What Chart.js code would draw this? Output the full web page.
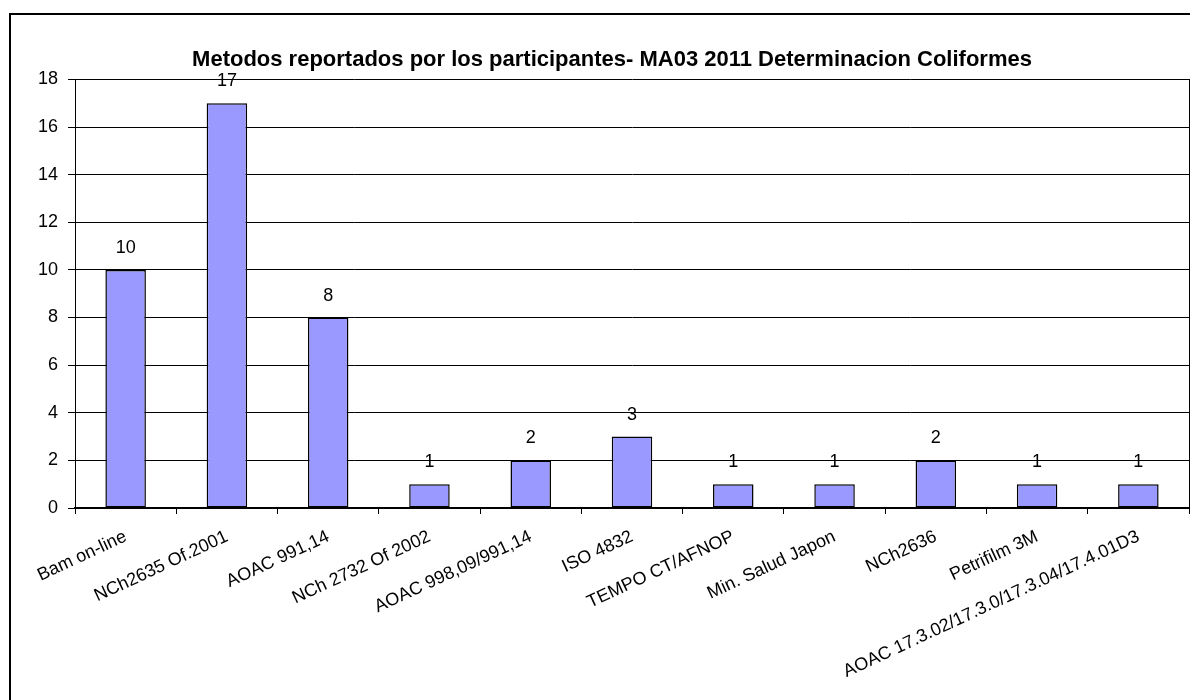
<!DOCTYPE html>
<html>
<head>
<meta charset="utf-8">
<title>Metodos reportados</title>
<script src="https://cdn.jsdelivr.net/npm/chart.js@4.4.1/dist/chart.umd.min.js"></script>
<style>
html,body{margin:0;padding:0;background:#fff;overflow:hidden;}
#frame{position:absolute;left:9px;top:13px;width:1202px;height:700px;border:2px solid #000;background:#fff;}
#chart{display:block;}
</style>
</head>
<body>
<div id="frame"><canvas id="chart" width="1202" height="700"></canvas></div>
<script>
// ====== Data ======
const TITLE = 'Metodos reportados por los participantes- MA03 2011 Determinacion Coliformes';
const methods = [
  'Bam on-line', 'NCh2635 Of.2001', 'AOAC 991,14', 'NCh 2732 Of 2002',
  'AOAC 998,09/991,14', 'ISO 4832', 'TEMPO CT/AFNOP', 'Min. Salud Japon',
  'NCh2636', 'Petrifilm 3M', 'AOAC 17.3.02/17.3.0/17.3.04/17.4.01D3'
];
const counts = [10, 17, 8, 1, 2, 3, 1, 1, 2, 1, 1];
const yTicks = [0, 2, 4, 6, 8, 10, 12, 14, 16, 18];

const FONT = 'Arial, "Liberation Sans", sans-serif';

// value labels above each bar
const barLabels = {
  id: 'barLabels',
  afterDatasetsDraw(chart){
    const ctx = chart.ctx;
    const meta = chart.getDatasetMeta(0);
    ctx.save();
    ctx.font = '18px ' + FONT;
    ctx.fillStyle = '#000';
    ctx.textAlign = 'center';
    ctx.textBaseline = 'alphabetic';
    meta.data.forEach((bar, i) => ctx.fillText(String(counts[i]), bar.x, bar.y - 17));
    ctx.restore();
  }
};

new Chart(document.getElementById('chart'), {
  type: 'bar',
  data: {
    labels: methods,
    datasets: [{
      data: counts,
      backgroundColor: '#9999FF',
      borderColor: '#000',
      borderWidth: 1.5,
      borderSkipped: false,
      barPercentage: 0.4,
      categoryPercentage: 1
    }]
  },
  options: {
    responsive: false,
    animation: false,
    events: [],
    layout: { padding: 0 },
    plugins: {
      legend: { display: false },
      tooltip: { enabled: false },
      title: {
        display: true,
        text: TITLE,
        color: '#000',
        font: { family: FONT, size: 22, weight: 'bold' },
        padding: { top: 32, bottom: 6 }
      }
    },
    scales: {
      x: {
        grid: { drawOnChartArea: false, drawTicks: true, tickLength: 6, color: '#000', offset: true },
        border: { display: true, color: '#000', width: 2 },
        ticks: {
          color: '#000', font: { family: FONT, size: 18 },
          maxRotation: 25, minRotation: 25, autoSkip: false, padding: 12
        },
        afterFit(s){ s.height = 207; }
      },
      y: {
        min: 0, max: 18,
        grid: { color: '#000', lineWidth: 1, tickLength: 7 },
        border: { display: true, color: '#000', width: 1 },
        ticks: {
          color: '#000', font: { family: FONT, size: 18 }, padding: 10,
          stepSize: 2,
          callback: (v) => yTicks.includes(v) ? String(v) : ''
        },
        afterFit(s){ s.width = 64; }
      },
      edge: {
        type: 'linear', position: 'right', min: 0, max: 18,
        grid: { drawOnChartArea: false, drawTicks: false },
        border: { display: true, color: '#000', width: 1 },
        ticks: { display: false },
        afterFit(s){ s.width = 24; }
      }
    }
  },
  plugins: [barLabels]
});
</script>
</body>
</html>
